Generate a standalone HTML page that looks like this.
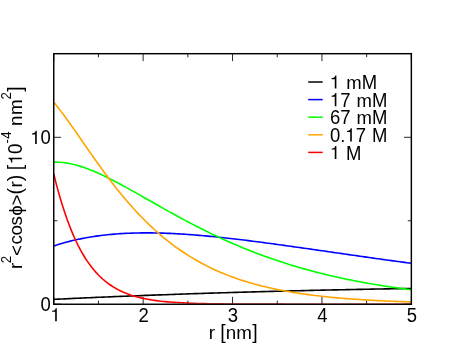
<!DOCTYPE html>
<html><head><meta charset="utf-8"><title>plot</title>
<style>
html,body{margin:0;padding:0;background:#fff;}
body{width:463px;height:358px;overflow:hidden;}
svg{display:block;will-change:transform;}
text{font-family:"Liberation Sans",sans-serif;font-size:18.5px;fill:#000;font-kerning:none;white-space:pre;}
</style></head><body>
<svg width="463" height="358" viewBox="0 0 463 358">
<rect width="463" height="358" fill="#fff"/>

<g stroke="#000" stroke-width="0.85" fill="none">
<path d="M53.75,304.25 V296.85 M53.75,53.7 V61.10"/>
<path d="M98.45,304.25 V300.65 M98.45,53.7 V57.30"/>
<path d="M143.15,304.25 V296.85 M143.15,53.7 V61.10"/>
<path d="M187.85,304.25 V300.65 M187.85,53.7 V57.30"/>
<path d="M232.55,304.25 V296.85 M232.55,53.7 V61.10"/>
<path d="M277.25,304.25 V300.65 M277.25,53.7 V57.30"/>
<path d="M321.95,304.25 V296.85 M321.95,53.7 V61.10"/>
<path d="M366.65,304.25 V300.65 M366.65,53.7 V57.30"/>
<path d="M411.35,304.25 V296.85 M411.35,53.7 V61.10"/>
<path d="M53.75,304.20 H61.15 M411.35,304.20 H403.95"/>
<path d="M53.75,220.75 H57.35 M411.35,220.75 H407.75"/>
<path d="M53.75,137.30 H61.15 M411.35,137.30 H403.95"/>
</g>
<clipPath id="cp"><rect x="53.75" y="53.70" width="357.60" height="250.15"/></clipPath>
<g fill="none" stroke-width="1.6" stroke-linejoin="round" clip-path="url(#cp)">
<path d="M53.75,299.36 L55.98,299.25 L58.22,299.15 L60.45,299.04 L62.69,298.93 L64.92,298.83 L67.16,298.72 L69.40,298.62 L71.63,298.52 L73.87,298.41 L76.10,298.31 L78.33,298.21 L80.57,298.11 L82.80,298.01 L85.04,297.91 L87.28,297.81 L89.51,297.71 L91.75,297.61 L93.98,297.51 L96.22,297.42 L98.45,297.32 L100.69,297.22 L102.92,297.13 L105.16,297.03 L107.39,296.94 L109.62,296.84 L111.86,296.75 L114.09,296.66 L116.33,296.57 L118.57,296.48 L120.80,296.38 L123.03,296.29 L125.27,296.20 L127.50,296.12 L129.74,296.03 L131.98,295.94 L134.21,295.85 L136.44,295.76 L138.68,295.68 L140.92,295.59 L143.15,295.50 L145.38,295.42 L147.62,295.33 L149.86,295.25 L152.09,295.17 L154.32,295.08 L156.56,295.00 L158.79,294.92 L161.03,294.84 L163.27,294.76 L165.50,294.68 L167.74,294.60 L169.97,294.52 L172.21,294.44 L174.44,294.36 L176.68,294.28 L178.91,294.20 L181.14,294.13 L183.38,294.05 L185.62,293.97 L187.85,293.90 L190.09,293.82 L192.32,293.75 L194.56,293.67 L196.79,293.60 L199.03,293.53 L201.26,293.45 L203.50,293.38 L205.73,293.31 L207.97,293.24 L210.20,293.17 L212.44,293.10 L214.67,293.03 L216.91,292.96 L219.14,292.89 L221.38,292.82 L223.61,292.75 L225.84,292.68 L228.08,292.62 L230.32,292.55 L232.55,292.48 L234.78,292.42 L237.02,292.35 L239.26,292.29 L241.49,292.22 L243.73,292.16 L245.96,292.09 L248.19,292.03 L250.43,291.97 L252.67,291.91 L254.90,291.84 L257.13,291.78 L259.37,291.72 L261.61,291.66 L263.84,291.60 L266.08,291.54 L268.31,291.48 L270.54,291.42 L272.78,291.36 L275.01,291.30 L277.25,291.25 L279.49,291.19 L281.72,291.13 L283.96,291.07 L286.19,291.02 L288.43,290.96 L290.66,290.91 L292.89,290.85 L295.13,290.80 L297.37,290.74 L299.60,290.69 L301.84,290.63 L304.07,290.58 L306.31,290.53 L308.54,290.48 L310.78,290.42 L313.01,290.37 L315.25,290.32 L317.48,290.27 L319.72,290.22 L321.95,290.17 L324.19,290.12 L326.42,290.07 L328.66,290.02 L330.89,289.97 L333.12,289.92 L335.36,289.87 L337.60,289.83 L339.83,289.78 L342.06,289.73 L344.30,289.69 L346.54,289.64 L348.77,289.59 L351.01,289.55 L353.24,289.50 L355.48,289.46 L357.71,289.41 L359.94,289.37 L362.18,289.33 L364.41,289.28 L366.65,289.24 L368.89,289.20 L371.12,289.15 L373.36,289.11 L375.59,289.07 L377.83,289.03 L380.06,288.99 L382.30,288.95 L384.53,288.91 L386.76,288.87 L389.00,288.83 L391.24,288.79 L393.47,288.75 L395.71,288.71 L397.94,288.67 L400.18,288.63 L402.41,288.59 L404.64,288.56 L406.88,288.52 L409.12,288.48 L411.35,288.44" stroke="#000000"/>
<path d="M53.75,245.95 L55.98,245.22 L58.22,244.52 L60.45,243.85 L62.69,243.20 L64.92,242.57 L67.16,241.97 L69.40,241.39 L71.63,240.84 L73.87,240.31 L76.10,239.80 L78.33,239.31 L80.57,238.85 L82.80,238.40 L85.04,237.98 L87.28,237.57 L89.51,237.19 L91.75,236.82 L93.98,236.48 L96.22,236.15 L98.45,235.84 L100.69,235.55 L102.92,235.27 L105.16,235.02 L107.39,234.78 L109.62,234.55 L111.86,234.34 L114.09,234.15 L116.33,233.97 L118.57,233.81 L120.80,233.66 L123.03,233.52 L125.27,233.40 L127.50,233.29 L129.74,233.20 L131.98,233.12 L134.21,233.05 L136.44,232.99 L138.68,232.94 L140.92,232.91 L143.15,232.89 L145.38,232.88 L147.62,232.88 L149.86,232.89 L152.09,232.91 L154.32,232.94 L156.56,232.98 L158.79,233.03 L161.03,233.09 L163.27,233.16 L165.50,233.24 L167.74,233.33 L169.97,233.42 L172.21,233.52 L174.44,233.64 L176.68,233.75 L178.91,233.88 L181.14,234.02 L183.38,234.16 L185.62,234.30 L187.85,234.46 L190.09,234.62 L192.32,234.79 L194.56,234.96 L196.79,235.14 L199.03,235.33 L201.26,235.52 L203.50,235.72 L205.73,235.92 L207.97,236.13 L210.20,236.34 L212.44,236.56 L214.67,236.78 L216.91,237.01 L219.14,237.24 L221.38,237.48 L223.61,237.72 L225.84,237.97 L228.08,238.21 L230.32,238.47 L232.55,238.72 L234.78,238.98 L237.02,239.25 L239.26,239.51 L241.49,239.78 L243.73,240.05 L245.96,240.33 L248.19,240.61 L250.43,240.89 L252.67,241.17 L254.90,241.46 L257.13,241.75 L259.37,242.04 L261.61,242.33 L263.84,242.62 L266.08,242.92 L268.31,243.22 L270.54,243.52 L272.78,243.82 L275.01,244.13 L277.25,244.43 L279.49,244.74 L281.72,245.05 L283.96,245.36 L286.19,245.67 L288.43,245.98 L290.66,246.30 L292.89,246.61 L295.13,246.93 L297.37,247.24 L299.60,247.56 L301.84,247.88 L304.07,248.20 L306.31,248.51 L308.54,248.83 L310.78,249.15 L313.01,249.47 L315.25,249.80 L317.48,250.12 L319.72,250.44 L321.95,250.76 L324.19,251.08 L326.42,251.40 L328.66,251.73 L330.89,252.05 L333.12,252.37 L335.36,252.69 L337.60,253.01 L339.83,253.33 L342.06,253.66 L344.30,253.98 L346.54,254.30 L348.77,254.62 L351.01,254.94 L353.24,255.26 L355.48,255.58 L357.71,255.89 L359.94,256.21 L362.18,256.53 L364.41,256.85 L366.65,257.16 L368.89,257.48 L371.12,257.79 L373.36,258.11 L375.59,258.42 L377.83,258.73 L380.06,259.04 L382.30,259.36 L384.53,259.67 L386.76,259.97 L389.00,260.28 L391.24,260.59 L393.47,260.90 L395.71,261.20 L397.94,261.51 L400.18,261.81 L402.41,262.11 L404.64,262.41 L406.88,262.71 L409.12,263.01 L411.35,263.31" stroke="#0000ff"/>
<path d="M53.75,162.20 L55.98,162.15 L58.22,162.19 L60.45,162.30 L62.69,162.49 L64.92,162.76 L67.16,163.09 L69.40,163.49 L71.63,163.95 L73.87,164.47 L76.10,165.05 L78.33,165.68 L80.57,166.36 L82.80,167.09 L85.04,167.86 L87.28,168.67 L89.51,169.53 L91.75,170.42 L93.98,171.34 L96.22,172.30 L98.45,173.29 L100.69,174.31 L102.92,175.36 L105.16,176.43 L107.39,177.52 L109.62,178.63 L111.86,179.77 L114.09,180.92 L116.33,182.09 L118.57,183.27 L120.80,184.47 L123.03,185.68 L125.27,186.90 L127.50,188.13 L129.74,189.37 L131.98,190.62 L134.21,191.87 L136.44,193.13 L138.68,194.39 L140.92,195.66 L143.15,196.93 L145.38,198.20 L147.62,199.47 L149.86,200.74 L152.09,202.01 L154.32,203.28 L156.56,204.55 L158.79,205.81 L161.03,207.08 L163.27,208.34 L165.50,209.59 L167.74,210.84 L169.97,212.08 L172.21,213.32 L174.44,214.55 L176.68,215.78 L178.91,216.99 L181.14,218.20 L183.38,219.41 L185.62,220.60 L187.85,221.79 L190.09,222.96 L192.32,224.13 L194.56,225.29 L196.79,226.44 L199.03,227.58 L201.26,228.71 L203.50,229.83 L205.73,230.94 L207.97,232.04 L210.20,233.13 L212.44,234.21 L214.67,235.28 L216.91,236.33 L219.14,237.38 L221.38,238.41 L223.61,239.44 L225.84,240.45 L228.08,241.45 L230.32,242.44 L232.55,243.42 L234.78,244.39 L237.02,245.34 L239.26,246.29 L241.49,247.22 L243.73,248.14 L245.96,249.05 L248.19,249.95 L250.43,250.84 L252.67,251.71 L254.90,252.58 L257.13,253.43 L259.37,254.28 L261.61,255.11 L263.84,255.93 L266.08,256.74 L268.31,257.53 L270.54,258.32 L272.78,259.10 L275.01,259.86 L277.25,260.62 L279.49,261.36 L281.72,262.10 L283.96,262.82 L286.19,263.53 L288.43,264.23 L290.66,264.93 L292.89,265.61 L295.13,266.28 L297.37,266.94 L299.60,267.59 L301.84,268.24 L304.07,268.87 L306.31,269.49 L308.54,270.10 L310.78,270.71 L313.01,271.30 L315.25,271.89 L317.48,272.46 L319.72,273.03 L321.95,273.59 L324.19,274.14 L326.42,274.68 L328.66,275.21 L330.89,275.73 L333.12,276.25 L335.36,276.76 L337.60,277.25 L339.83,277.74 L342.06,278.23 L344.30,278.70 L346.54,279.17 L348.77,279.63 L351.01,280.08 L353.24,280.52 L355.48,280.96 L357.71,281.39 L359.94,281.81 L362.18,282.23 L364.41,282.63 L366.65,283.03 L368.89,283.43 L371.12,283.82 L373.36,284.20 L375.59,284.57 L377.83,284.94 L380.06,285.30 L382.30,285.66 L384.53,286.01 L386.76,286.35 L389.00,286.69 L391.24,287.02 L393.47,287.34 L395.71,287.66 L397.94,287.98 L400.18,288.28 L402.41,288.59 L404.64,288.88 L406.88,289.18 L409.12,289.46 L411.35,289.75" stroke="#00ff00"/>
<path d="M53.75,102.25 L55.98,104.95 L58.22,107.75 L60.45,110.63 L62.69,113.58 L64.92,116.59 L67.16,119.66 L69.40,122.77 L71.63,125.92 L73.87,129.10 L76.10,132.31 L78.33,135.52 L80.57,138.75 L82.80,141.98 L85.04,145.21 L87.28,148.43 L89.51,151.64 L91.75,154.84 L93.98,158.02 L96.22,161.17 L98.45,164.30 L100.69,167.40 L102.92,170.48 L105.16,173.51 L107.39,176.52 L109.62,179.48 L111.86,182.41 L114.09,185.30 L116.33,188.14 L118.57,190.94 L120.80,193.70 L123.03,196.41 L125.27,199.08 L127.50,201.70 L129.74,204.28 L131.98,206.81 L134.21,209.29 L136.44,211.72 L138.68,214.11 L140.92,216.45 L143.15,218.74 L145.38,220.98 L147.62,223.18 L149.86,225.33 L152.09,227.44 L154.32,229.49 L156.56,231.51 L158.79,233.47 L161.03,235.40 L163.27,237.27 L165.50,239.11 L167.74,240.90 L169.97,242.65 L172.21,244.35 L174.44,246.02 L176.68,247.65 L178.91,249.23 L181.14,250.78 L183.38,252.28 L185.62,253.75 L187.85,255.18 L190.09,256.58 L192.32,257.94 L194.56,259.26 L196.79,260.55 L199.03,261.81 L201.26,263.03 L203.50,264.22 L205.73,265.38 L207.97,266.51 L210.20,267.60 L212.44,268.67 L214.67,269.71 L216.91,270.72 L219.14,271.70 L221.38,272.66 L223.61,273.59 L225.84,274.49 L228.08,275.37 L230.32,276.23 L232.55,277.06 L234.78,277.86 L237.02,278.65 L239.26,279.41 L241.49,280.15 L243.73,280.87 L245.96,281.57 L248.19,282.24 L250.43,282.90 L252.67,283.54 L254.90,284.17 L257.13,284.77 L259.37,285.36 L261.61,285.92 L263.84,286.48 L266.08,287.01 L268.31,287.53 L270.54,288.04 L272.78,288.53 L275.01,289.01 L277.25,289.47 L279.49,289.92 L281.72,290.35 L283.96,290.77 L286.19,291.18 L288.43,291.58 L290.66,291.97 L292.89,292.34 L295.13,292.70 L297.37,293.06 L299.60,293.40 L301.84,293.73 L304.07,294.05 L306.31,294.36 L308.54,294.66 L310.78,294.96 L313.01,295.24 L315.25,295.52 L317.48,295.78 L319.72,296.04 L321.95,296.29 L324.19,296.54 L326.42,296.77 L328.66,297.00 L330.89,297.23 L333.12,297.44 L335.36,297.65 L337.60,297.85 L339.83,298.05 L342.06,298.24 L344.30,298.42 L346.54,298.60 L348.77,298.77 L351.01,298.94 L353.24,299.11 L355.48,299.26 L357.71,299.42 L359.94,299.56 L362.18,299.71 L364.41,299.85 L366.65,299.98 L368.89,300.11 L371.12,300.24 L373.36,300.36 L375.59,300.48 L377.83,300.60 L380.06,300.71 L382.30,300.82 L384.53,300.92 L386.76,301.02 L389.00,301.12 L391.24,301.22 L393.47,301.31 L395.71,301.40 L397.94,301.49 L400.18,301.57 L402.41,301.65 L404.64,301.73 L406.88,301.81 L409.12,301.88 L411.35,301.95" stroke="#ffa500"/>
<path d="M53.75,174.01 L55.98,182.85 L58.22,191.15 L60.45,198.95 L62.69,206.26 L64.92,213.12 L67.16,219.53 L69.40,225.53 L71.63,231.14 L73.87,236.37 L76.10,241.26 L78.33,245.82 L80.57,250.07 L82.80,254.03 L85.04,257.72 L87.28,261.15 L89.51,264.34 L91.75,267.30 L93.98,270.06 L96.22,272.62 L98.45,274.99 L100.69,277.20 L102.92,279.24 L105.16,281.14 L107.39,282.89 L109.62,284.52 L111.86,286.03 L114.09,287.43 L116.33,288.72 L118.57,289.91 L120.80,291.02 L123.03,292.04 L125.27,292.99 L127.50,293.86 L129.74,294.67 L131.98,295.42 L134.21,296.11 L136.44,296.74 L138.68,297.33 L140.92,297.87 L143.15,298.38 L145.38,298.84 L147.62,299.26 L149.86,299.66 L152.09,300.02 L154.32,300.35 L156.56,300.66 L158.79,300.94 L161.03,301.20 L163.27,301.44 L165.50,301.67 L167.74,301.87 L169.97,302.06 L172.21,302.23 L174.44,302.39 L176.68,302.54 L178.91,302.67 L181.14,302.80 L183.38,302.91 L185.62,303.01 L187.85,303.11 L190.09,303.20 L192.32,303.28 L194.56,303.36 L196.79,303.43 L199.03,303.49 L201.26,303.55 L203.50,303.60 L205.73,303.65 L207.97,303.70 L210.20,303.74 L212.44,303.77 L214.67,303.81 L216.91,303.84 L219.14,303.87 L221.38,303.90 L223.61,303.92 L225.84,303.95 L228.08,303.97 L230.32,303.99 L232.55,304.00 L234.78,304.02 L237.02,304.04 L239.26,304.05 L241.49,304.06 L243.73,304.07 L245.96,304.08 L248.19,304.09 L250.43,304.10 L252.67,304.11 L254.90,304.12 L257.13,304.12 L259.37,304.13 L261.61,304.14 L263.84,304.14 L266.08,304.15 L268.31,304.15 L270.54,304.16 L272.78,304.16 L275.01,304.16 L277.25,304.17 L279.49,304.17 L281.72,304.17 L283.96,304.17 L286.19,304.18 L288.43,304.18 L290.66,304.18 L292.89,304.18 L295.13,304.18 L297.37,304.18 L299.60,304.19 L301.84,304.19 L304.07,304.19 L306.31,304.19 L308.54,304.19 L310.78,304.19 L313.01,304.19 L315.25,304.19 L317.48,304.19 L319.72,304.19 L321.95,304.19 L324.19,304.19 L326.42,304.20 L328.66,304.20 L330.89,304.20 L333.12,304.20 L335.36,304.20 L337.60,304.20 L339.83,304.20 L342.06,304.20 L344.30,304.20 L346.54,304.20 L348.77,304.20 L351.01,304.20 L353.24,304.20 L355.48,304.20 L357.71,304.20 L359.94,304.20 L362.18,304.20 L364.41,304.20 L366.65,304.20 L368.89,304.20 L371.12,304.20 L373.36,304.20 L375.59,304.20 L377.83,304.20 L380.06,304.20 L382.30,304.20 L384.53,304.20 L386.76,304.20 L389.00,304.20 L391.24,304.20 L393.47,304.20 L395.71,304.20 L397.94,304.20 L400.18,304.20 L402.41,304.20 L404.64,304.20 L406.88,304.20 L409.12,304.20 L411.35,304.20" stroke="#ff0000"/>
</g>
<rect x="53.75" y="53.7" width="357.60" height="250.55" fill="none" stroke="#000" stroke-width="1.45"/>
<path d="M713,0H533V1040H185V1163C378,1169 560,1220 593,1452H713Z" transform="translate(50.36,321.25) scale(0.00903,-0.00903)" fill="#000"/>
<text transform="translate(138.41,321.60) scale(1,1.045)" style="font-size:18.5px">2</text>
<text transform="translate(227.81,321.60) scale(1,1.045)" style="font-size:18.5px">3</text>
<text transform="translate(317.21,321.60) scale(1,1.045)" style="font-size:18.5px">4</text>
<text transform="translate(406.66,321.60) scale(1,1.045)" style="font-size:18.5px">5</text>
<text transform="translate(40.61,311.40) scale(1,1.045)" style="font-size:18.5px">0</text>
<path d="M713,0H533V1040H185V1163C378,1169 560,1220 593,1452H713Z" transform="translate(30.32,143.90) scale(0.00903,-0.00903)" fill="#000"/>
<text transform="translate(40.61,144.40) scale(1,1.045)" style="font-size:18.5px">0</text>
<text transform="translate(208.80,338.90) scale(1,0.975)" style="font-size:18.8px">r</text>
<text x="220.31" y="339.20" style="font-size:19.6px">[</text>
<text transform="translate(225.86,338.90) scale(1,0.975)" style="font-size:18.8px">n</text>
<text transform="translate(236.17,338.90) scale(1,0.975)" style="font-size:18.8px">m</text>
<text x="252.30" y="339.20" style="font-size:19.6px">]</text>
<g transform="translate(21.8,300.0) rotate(-90)">
<text transform="translate(30.90,0.00) scale(1,0.975)" style="font-size:18.8px">r</text>
<text transform="translate(36.80,-11.00) scale(1,1.045)" style="font-size:13.3px">2</text>
<text x="44.01" y="1.20" style="font-size:18.8px">&lt;</text>
<text transform="translate(55.55,0.00) scale(1,0.975)" style="font-size:18.8px">c</text>
<text transform="translate(64.62,0.00) scale(1,0.975)" style="font-size:18.8px">o</text>
<text transform="translate(74.58,0.00) scale(1,0.975)" style="font-size:18.8px">s</text>
<text x="84.29" y="0.00" style="font-size:18.8px">ϕ</text>
<text x="94.46" y="1.20" style="font-size:18.8px">&gt;</text>
<text x="105.61" y="0.40" style="font-size:19.5px">(</text>
<text transform="translate(112.40,0.00) scale(1,0.975)" style="font-size:18.8px">r</text>
<text x="118.85" y="0.40" style="font-size:19.5px">)</text>
<text x="129.82" y="0.40" style="font-size:19.5px">[</text>
<path d="M713,0H533V1040H185V1163C378,1169 560,1220 593,1452H713Z" transform="translate(135.78,0.00) scale(0.00918,-0.00918)" fill="#000"/>
<text transform="translate(146.02,0.00) scale(1,1.045)" style="font-size:18.8px">0</text>
<text x="156.44" y="-11.00" style="font-size:13.3px">-</text>
<text transform="translate(161.24,-11.00) scale(1,1.045)" style="font-size:13.3px">4</text>
<text transform="translate(174.01,0.00) scale(1,0.975)" style="font-size:18.8px">n</text>
<text transform="translate(184.97,0.00) scale(1,0.975)" style="font-size:18.8px">m</text>
<text transform="translate(200.55,-11.00) scale(1,1.045)" style="font-size:13.3px">2</text>
<text x="208.21" y="0.40" style="font-size:19.5px">]</text>
</g>
<path d="M308.2,82.00 H322.7" stroke="#000000" stroke-width="1.5"/>
<path d="M713,0H533V1040H185V1163C378,1169 560,1220 593,1452H713Z" transform="translate(329.95,88.60) scale(0.00903,-0.00903)" fill="#000"/>
<text x="341.19" y="89.10" style="font-size:18.5px"> m</text>
<text transform="translate(361.74,89.10) scale(1,1.045)" style="font-size:18.5px">M</text>
<path d="M308.2,99.60 H322.7" stroke="#0000ff" stroke-width="1.5"/>
<path d="M713,0H533V1040H185V1163C378,1169 560,1220 593,1452H713Z" transform="translate(329.95,106.20) scale(0.00903,-0.00903)" fill="#000"/>
<text transform="translate(340.24,106.70) scale(1,1.045)" style="font-size:18.5px">7</text>
<text x="351.48" y="106.70" style="font-size:18.5px"> m</text>
<text transform="translate(372.03,106.70) scale(1,1.045)" style="font-size:18.5px">M</text>
<path d="M308.2,117.20 H322.7" stroke="#00ff00" stroke-width="1.5"/>
<text transform="translate(329.95,124.30) scale(1,1.045)" style="font-size:18.5px">67</text>
<text x="351.48" y="124.30" style="font-size:18.5px"> m</text>
<text transform="translate(372.03,124.30) scale(1,1.045)" style="font-size:18.5px">M</text>
<path d="M308.2,134.80 H322.7" stroke="#ffa500" stroke-width="1.5"/>
<text transform="translate(329.95,141.90) scale(1,1.045)" style="font-size:18.5px">0</text>
<text x="340.24" y="141.90" style="font-size:18.5px">.</text>
<path d="M713,0H533V1040H185V1163C378,1169 560,1220 593,1452H713Z" transform="translate(345.38,141.40) scale(0.00903,-0.00903)" fill="#000"/>
<text transform="translate(355.67,141.90) scale(1,1.045)" style="font-size:18.5px">7</text>
<text transform="translate(372.05,141.90) scale(1,1.045)" style="font-size:18.5px">M</text>
<path d="M308.2,152.40 H322.7" stroke="#ff0000" stroke-width="1.5"/>
<path d="M713,0H533V1040H185V1163C378,1169 560,1220 593,1452H713Z" transform="translate(329.95,159.00) scale(0.00903,-0.00903)" fill="#000"/>
<text transform="translate(345.93,159.50) scale(1,1.045)" style="font-size:18.5px">M</text>
</svg></body></html>
